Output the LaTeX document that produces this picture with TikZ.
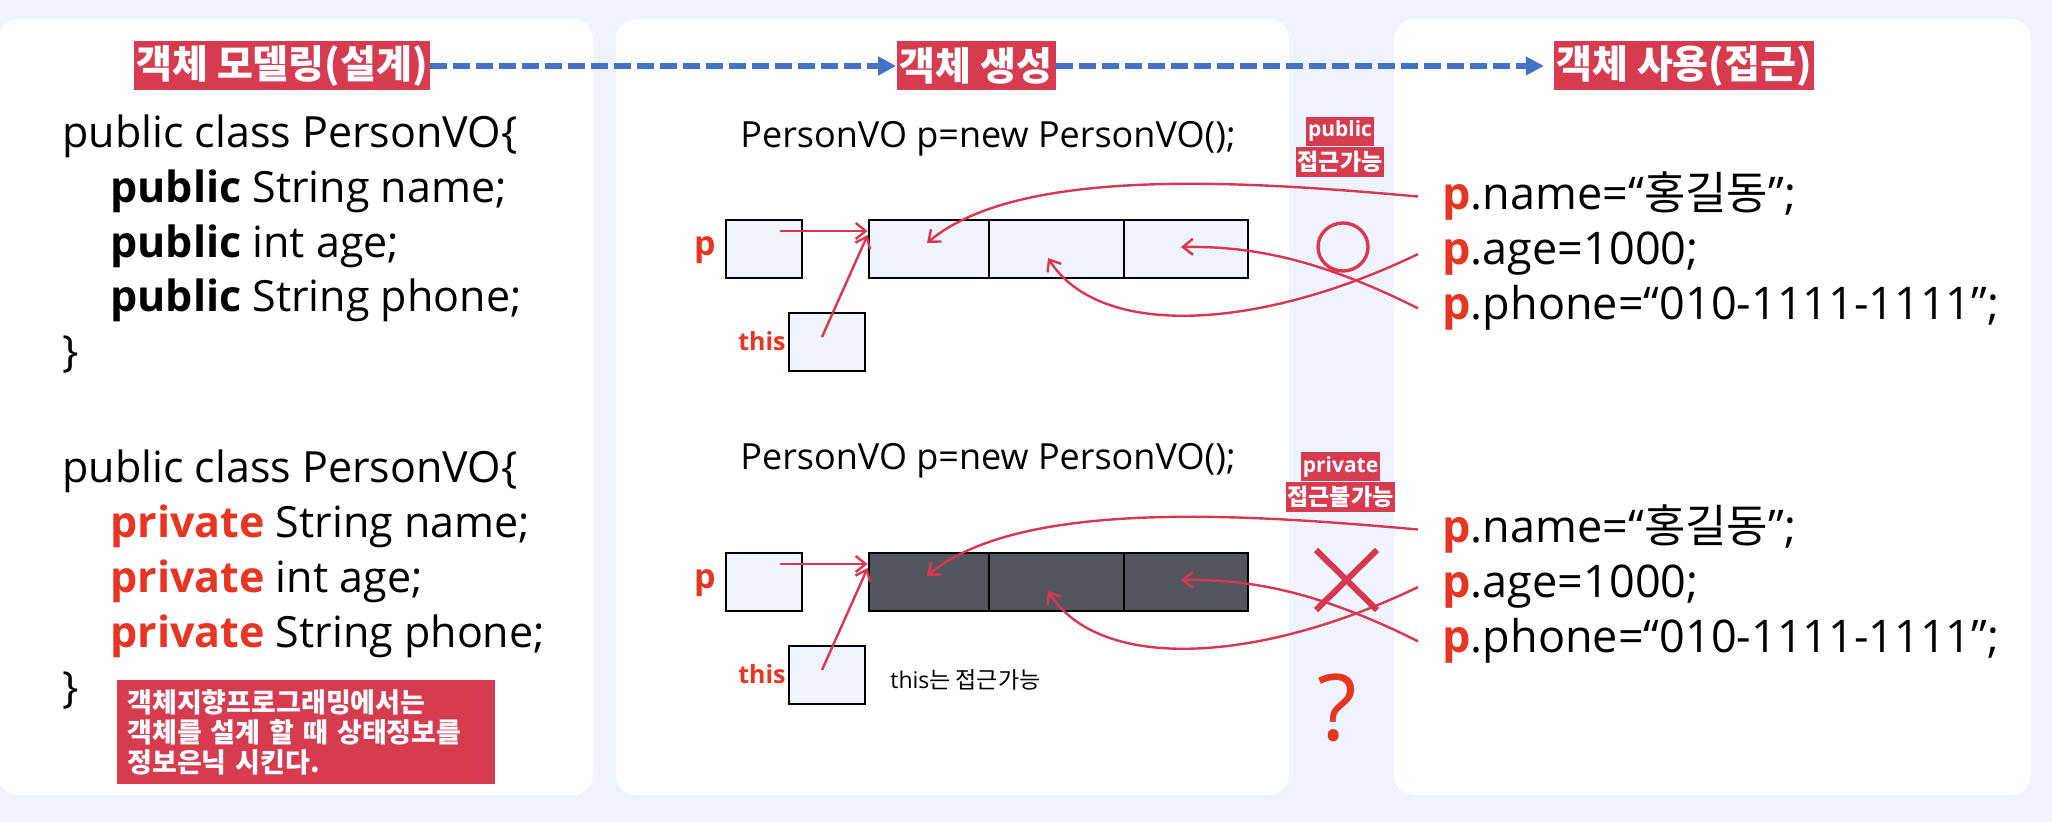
\documentclass[tikz,border=0pt]{standalone}
\usepackage{fontspec}
\setmainfont{Open Sans}
\newfontfamily\kr{Noto Sans CJK KR}
\usepackage{tikz}
\usetikzlibrary{arrows.meta,positioning}
\definecolor{oopbg}{HTML}{EEF3FE}
\definecolor{ooptag}{HTML}{D63B50}
\definecolor{oopkey}{HTML}{E63522}
\definecolor{oopline}{HTML}{D8384F}
\definecolor{oopflow}{HTML}{4472C4}
\definecolor{oopcell}{HTML}{EEF3FC}
\definecolor{oopdark}{HTML}{53565E}
\newcommand{\kw}[1]{\textcolor{oopkey}{\bfseries #1}}
\newcommand{\fs}[2]{\fontsize{#1}{#2}\selectfont}

\begin{document}
\begin{tikzpicture}[x=0.5pt,y=-0.5pt,
  panel/.style={fill=white,rounded corners=10pt},
  tag/.style={fill=ooptag,text=white,font=\kr\bfseries\fs{19.5}{21},inner xsep=1pt,inner ysep=0pt,minimum height=24.5pt},
  smalltag/.style={fill=ooptag,text=white,font=\bfseries\fs{10.5}{12},inner sep=1pt,minimum height=14.5pt},
  note/.style={fill=ooptag,text=white,font=\kr\bfseries\fs{13.5}{15},align=left,text width=179pt,inner xsep=5pt,inner ysep=4.5pt,minimum height=51.5pt},
  code/.style={anchor=base west,inner sep=0pt,font=\fs{21.5}{27.5}},
  stmt/.style={anchor=base west,inner sep=0pt,font=\fs{22.5}{27.5}},
  newline/.style={anchor=base west,inner sep=0pt,font=\fs{18}{20}},
  cell/.style={draw=black,line width=1.4pt,minimum height=29pt,inner sep=0pt},
  varname/.style={text=oopkey,font=\bfseries\fs{17}{20},inner sep=0pt},
  ptr/.style={oopline,line width=1.2pt,-{Straight Barb[length=5pt,width=8pt]}},
  flow/.style={oopflow,line width=3pt,dash pattern=on 8.5pt off 3pt,-{Triangle[length=9pt,width=9pt]}}]
  \useasboundingbox (0,0) rectangle (2052,822);
  \fill[oopbg] (0,0) rectangle (2052,822);
  \fill[panel] (-2,19) rectangle (593,795);
  \fill[panel] (616,19) rectangle (1289,795);
  \fill[panel] (1394,19) rectangle (2031,795);

  % steps
  \node[tag,minimum width=147.5pt] (design) at (282,66) {객체 모델링(설계)};
  \node[tag,minimum width=79.5pt] (create) at (976,66) {객체 생성};
  \node[tag,minimum width=128.5pt] (use) at (1684,66) {객체 사용(접근)};
  \draw[flow] (design) -- (create);
  \draw[flow,shorten >=5pt] (create) -- (use);

  % class code
  \node[code] (pubcls) at (62,148) {public class PersonVO\{};
  \node[code] (pubname) at (110,203) {\textbf{public} String name;};
  \node[code] (pubage) at (110,258) {\textbf{public} int age;};
  \node[code] (pubphone) at (110,312) {\textbf{public} String phone;};
  \node[code] (pubend) at (62,367) {\}};
  \node[code] (pricls) at (62,483) {public class PersonVO\{};
  \node[code] (priname) at (110,538) {\kw{private} String name;};
  \node[code] (priage) at (110,593) {\kw{private} int age;};
  \node[code] (priphone) at (110,648) {\kw{private} String phone;};
  \node[code] (priend) at (62,703) {\}};
  \node[note,anchor=north west] (hide) at (117,680) {객체지향프로그래밍에서는\\객체를 설계 할 때 상태정보를\\정보은닉 시킨다.};

  % objects and access
  \foreach \r/\dy/\ny/\shade in {a/0/148/oopcell,b/333/470/oopdark}{
    \node[newline] (new\r) at (740,\ny) {PersonVO p=new PersonVO();};
    \node[cell,fill=oopcell,minimum width=38pt] (pbox\r) at (764,249+\dy) {};
    \node[cell,fill=oopcell,minimum width=38pt] (tbox\r) at (827,342+\dy) {};
    \node[cell,fill=\shade,minimum width=60pt] (fa\r) at (929,249+\dy) {};
    \node[cell,fill=\shade,minimum width=67.5pt] (fb\r) at (1056.5,249+\dy) {};
    \node[cell,fill=\shade,minimum width=62pt] (fc\r) at (1186,249+\dy) {};
    \node[varname] (pv\r) at (705,250+\dy) {p};
    \node[varname,font=\bfseries\fs{12.5}{14}] (tv\r) at (762,341+\dy) {this};
    \coordinate (ps\r) at (780,231+\dy);
    \coordinate (ts\r) at (822,337+\dy);
    \coordinate (nt\r) at (927,243+\dy);
    \coordinate (at\r) at (1048,258+\dy);
    \coordinate (ht\r) at (1181,247+\dy);
    \draw[ptr] (ps\r) -- (ps\r -| fa\r.west);
    \draw[ptr] (ts\r) -- ([yshift=7pt]fa\r.west);
    \node[stmt] (sn\r) at (1442,210+\dy) {\kw{p}.name=“{\kr 홍길동}”;};
    \node[stmt] (sa\r) at (1442,265+\dy) {\kw{p}.age=1000;};
    \node[stmt] (sp\r) at (1442,320+\dy) {\kw{p}.phone=“010-1111-1111”;};
    \draw[ptr] ([xshift=-12pt]sn\r.west) .. controls +(-168,-15) and +(93,-78) .. (nt\r);
    \draw[ptr] ([xshift=-12pt]sa\r.west) .. controls +(-158,76) and +(52,82) .. (at\r);
    \draw[ptr] ([xshift=-12pt]sp\r.west) .. controls +(-100,-50) and +(69,-1) .. (ht\r);
  }
  \node[newline,anchor=west,font=\fs{11.5}{13}] (thisok) at (890,680) {this{\kr 는 접근가능}};

  % marks
  \node[smalltag] (pubkw) at (1340,131.5) {public};
  \node[smalltag,font=\kr\bfseries\fs{11.5}{13},minimum height=15pt,below=0pt of pubkw] (pubok) {접근가능};
  \node[smalltag] (prikw) at (1340.5,467) {private};
  \node[smalltag,font=\kr\bfseries\fs{11.5}{13},minimum height=15pt,below=0pt of prikw] (prino) {접근불가능};
  \draw[oopline,line width=1.7pt] (1343,247) ellipse [x radius=12.5pt,y radius=12pt];
  \draw[oopline,line width=3pt] (1316,550) -- (1377,610) (1377,550) -- (1316,610);
  \node[text=oopkey,font=\fs{46}{50},inner sep=0pt] (unknown) at (1337,708) {?};
\end{tikzpicture}
\end{document}
